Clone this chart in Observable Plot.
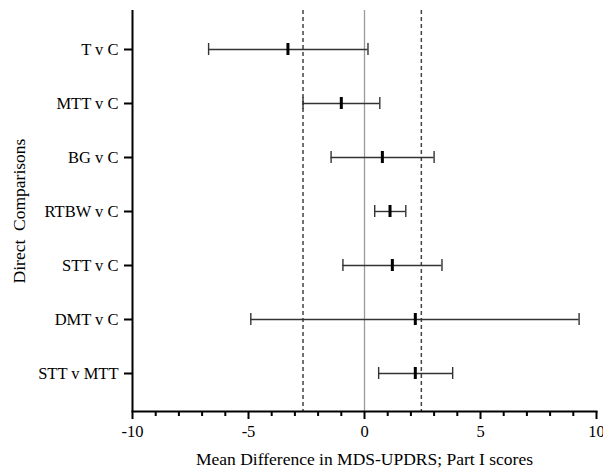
<!DOCTYPE html>
<html><head><meta charset="utf-8">
<script src="https://cdn.jsdelivr.net/npm/d3@7"></script>
<script src="https://cdn.jsdelivr.net/npm/@observablehq/plot@0.6"></script>
<style>body{margin:0;background:#fff}</style>
</head><body><div id="chart"></div>
<script>
const comparisons = ["T v C","MTT v C","BG v C","RTBW v C","STT v C","DMT v C","STT v MTT"];
const meanDiff = [-3.30,-1.00,0.77,1.10,1.20,2.19,2.19];
const lowerCI = [-6.72,-2.65,-1.44,0.44,-0.93,-4.90,0.61];
const upperCI = [0.15,0.66,3.00,1.78,3.34,9.25,3.80];
const refLines = [-2.65, 2.45];
const zeroLine = [0];
const majorTicks = [-10,-5,0,5,10];
const minorTicks = [-9,-8,-7,-6,-4,-3,-2,-1,1,2,3,4,6,7,8,9];
const xLabel = "Mean Difference in MDS-UPDRS; Part I scores";
const yLabel = "Direct  Comparisons";

const rows = comparisons.map((name, i) => ({name, mean: meanDiff[i], lo: lowerCI[i], hi: upperCI[i]}));

const capInset = 21;
const font = "'Liberation Serif', 'Times New Roman', serif";
const plot = Plot.plot({
  width: 603, height: 468,
  marginTop: 10, marginBottom: 57, marginLeft: 132, marginRight: 7,
  style: {fontFamily: font, fontSize: "16.5px", color: "#000", background: "#fff"},
  x: {domain: [-10, 10]},
  y: {domain: comparisons, type: "band", paddingInner: 0, paddingOuter: 0.157},
  marks: [
    Plot.ruleX(zeroLine, {stroke: "#9a9a9a", strokeWidth: 1.3}),
    Plot.ruleX(refLines, {stroke: "#444", strokeWidth: 1.5, strokeDasharray: "4,3"}),
    Plot.ruleY(rows, {y: "name", x1: "lo", x2: "hi", stroke: "#333", strokeWidth: 1.4}),
    Plot.tickX(rows, {y: "name", x: "lo", stroke: "#333", strokeWidth: 1.4, insetTop: capInset, insetBottom: capInset}),
    Plot.tickX(rows, {y: "name", x: "hi", stroke: "#333", strokeWidth: 1.4, insetTop: capInset, insetBottom: capInset}),
    Plot.tickX(rows, {y: "name", x: "mean", stroke: "#000", strokeWidth: 3, insetTop: capInset, insetBottom: capInset}),
    Plot.ruleX([-10], {stroke: "#000", strokeWidth: 2}),
    Plot.frame({anchor: "bottom", stroke: "#000", strokeWidth: 2}),
    Plot.axisX(minorTicks, {tickSize: 5, strokeWidth: 2, tickFormat: () => "", label: null}),
    Plot.axisX(majorTicks, {tickSize: 8, tickPadding: 6, strokeWidth: 2, fontSize: 16.5, fontFamily: font, tickFormat: d => String(d), label: xLabel, labelAnchor: "center", labelArrow: "none", labelOffset: 53}),
    Plot.axisY({tickSize: 8, tickPadding: 6, strokeWidth: 2, fontSize: 16.5, fontFamily: font, label: yLabel, labelAnchor: "center", labelArrow: "none", labelOffset: 120})
  ]
});
d3.select(plot).selectAll("text").filter(function() {
  const t = this.textContent;
  return t === xLabel || t === yLabel;
}).attr("font-size", 17.5).style("white-space", "pre");
document.getElementById("chart").appendChild(plot);
</script>
</body></html>
